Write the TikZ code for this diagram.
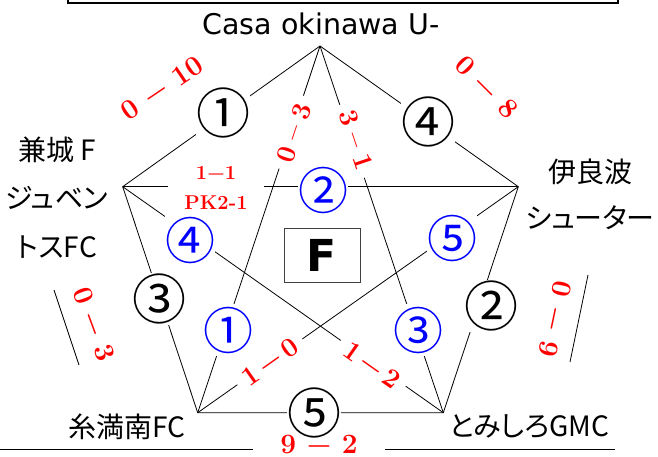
\documentclass[tikz,border=0pt]{standalone}
\usepackage{fontspec}
\newfontfamily\jpfont{Noto Sans CJK JP}[RawFeature=+palt]
\newfontfamily\circfont{Noto Sans CJK JP}
\newfontfamily\latinsans{DejaVu Sans}
\begin{document}
\begin{tikzpicture}[x=1pt,y=-1pt,
  edge/.style={line width=0.8pt,black},
  cbox/.style={rectangle,fill=white,minimum width=48pt,minimum height=52pt,inner sep=0pt},
  cblack/.style={cbox,text=black,font=\circfont\fontsize{54}{54}\selectfont},
  cblue/.style={cbox,text=blue,font=\circfont\fontsize{50}{50}\selectfont},
  bigscore/.style={text=red,font=\bfseries\fontsize{28}{28}\selectfont,inner sep=0pt},
  diagscore/.style={text=red,fill=white,font=\bfseries\fontsize{27}{27}\selectfont,inner xsep=8pt,inner ysep=1pt},
  team/.style={text=black,font=\jpfont\fontsize{28}{28}\selectfont,inner sep=0pt}
]
\useasboundingbox (0,0) rectangle (658,457);
% frame at top
\coordinate (fa) at (68,-10);
\coordinate (fb) at (68,3);
\coordinate (fc) at (618,3);
\coordinate (fd) at (618,-10);
\draw[line width=1.5pt] (fa) -- (fb) -- (fc) -- (fd);
% vertices
\coordinate (T) at (320,46);
\coordinate (L) at (122.7,186.7);
\coordinate (R) at (518.3,186.7);
\coordinate (BL) at (197.7,412.7);
\coordinate (BR) at (443.3,412.7);
% edges
\draw[edge] (T) -- (L) -- (BL) -- (BR) -- (R) -- cycle;
% diagonals
\draw[edge] (T) -- (BL);
\draw[edge] (T) -- (BR);
\draw[edge] (L) -- (R);
\draw[edge] (L) -- (BR);
\draw[edge] (R) -- (BL);
% side segments and bottom lines
\coordinate (sl1) at (54,290);
\coordinate (sl2) at (79,365);
\coordinate (sr1) at (588,275);
\coordinate (sr2) at (570,362);
\draw[edge] (sl1) -- (sl2);
\draw[edge] (sr1) -- (sr2);
\coordinate (bl1) at (0,449.5);
\coordinate (bl2) at (253,449.5);
\coordinate (br1) at (385,449.5);
\coordinate (br2) at (615,449.5);
\draw[line width=1pt] (bl1) -- (bl2);
\draw[line width=1pt] (br1) -- (br2);
% team names
\node[font=\latinsans\fontsize{28.5}{30}\selectfont,inner sep=0pt] (casa) at (321,24) {Casa okinawa U-};
\node[team] (kane1) at (57,150) {兼城 F};
\node[team] (kane2) at (57,198) {ジュベン};
\node[team] (kane3) at (57,247) {トスFC};
\node[team] (ira1) at (590,172) {伊良波};
\node[team] (ira2) at (590,218) {シューター};
\node[team] (ito) at (127,427) {糸満南FC};
\node[team] (tomi) at (529,427) {とみしろGMC};
% center box
\node[draw=black!75,line width=0.8pt,minimum width=76pt,minimum height=54pt,inner sep=0pt,
  font=\latinsans\bfseries\fontsize{44}{44}\selectfont] (F) at (322,255) {F};
% circled numbers, black (edges)
\node[cblack] (e1) at (223,113) {①};
\node[cblack] (e4) at (428,122) {④};
\node[cblack] (e3) at (159,299) {③};
\node[cblack] (e2) at (491,306) {②};
\node[cblack] (e5) at (314,413) {⑤};
% circled numbers, blue (diagonals)
\node[cblue] (d2) at (323,190) {②};
\node[cblue] (d4) at (190,240) {④};
\node[cblue] (d5) at (452,238) {⑤};
\node[cblue] (d1) at (228,330) {①};
\node[cblue] (d3) at (418,330) {③};
% diagonal scores
\node[diagscore,rotate=71.6] (s03) at (294,133) {0\hspace{0.28em}–\hspace{0.28em}3};
\node[diagscore,rotate=-71.4] (s31) at (356,140) {3\hspace{0.28em}–\hspace{0.28em}1};
\node[diagscore,rotate=35.2] (s10) at (270,362) {1\hspace{0.17em}−\hspace{0.17em}0};
\node[diagscore,rotate=-35.2] (s12) at (372,365) {1\hspace{0.17em}−\hspace{0.17em}2};
\node[text=red,fill=white,font=\bfseries\fontsize{20}{30}\selectfont,align=center,inner xsep=16pt,inner ysep=1pt] (s11) at (216,188) {1−1\\PK2-1};
% edge scores
\node[bigscore,rotate=34] (s010) at (162,88) {0 − 10};
\node[bigscore,rotate=-45] (s08) at (487,87) {0 − 8};
\node[bigscore,rotate=-69.7] (s03b) at (94,324) {0 − 3};
\node[bigscore,rotate=-102] (s09) at (555.5,319) {0 − 9};
\node[bigscore] (s92) at (319,444) {9 − 2};
\end{tikzpicture}
\end{document}
